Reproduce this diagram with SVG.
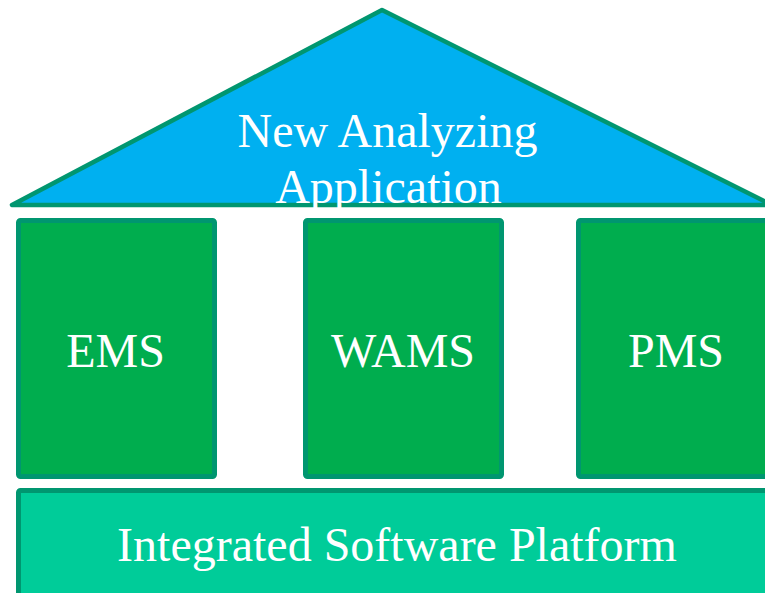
<svg xmlns="http://www.w3.org/2000/svg" width="765" height="593" viewBox="0 0 765 593">
<style>
.box{stroke:#009670;stroke-width:5;stroke-linejoin:round}
.pillar{fill:#00AD4E}
.t{font-family:"Liberation Serif","Times New Roman",serif;font-size:48px;fill:#FFFFFF;text-anchor:middle}
</style>
<rect width="765" height="593" fill="#FFFFFF"/>
<g id="platform">
<rect class="box" x="18.5" y="490.5" width="780" height="120" rx="2" fill="#00CC99"/>
<text class="t" x="397" y="561">Integrated Software Platform</text>
</g>
<g id="ems">
<rect class="box pillar" x="18.5" y="220.5" width="196" height="256" rx="2"/>
<text class="t" x="115.5" y="367">EMS</text>
</g>
<g id="wams">
<rect class="box pillar" x="305.5" y="220.5" width="196" height="256" rx="2"/>
<text class="t" x="403" y="367">WAMS</text>
</g>
<g id="pms">
<rect class="box pillar" x="578.5" y="220.5" width="220" height="256" rx="2"/>
<text class="t" x="676" y="367">PMS</text>
</g>
<g id="roof">
<polygon points="382,10 12,205 772,205" fill="#00B0F0" stroke="#009670" stroke-width="4.5" stroke-linejoin="round"/>
<text class="t" x="387.5" y="147">New Analyzing</text>
<text class="t" x="388.5" y="203">Application</text>
</g>
<g id="connectors"/>
</svg>
